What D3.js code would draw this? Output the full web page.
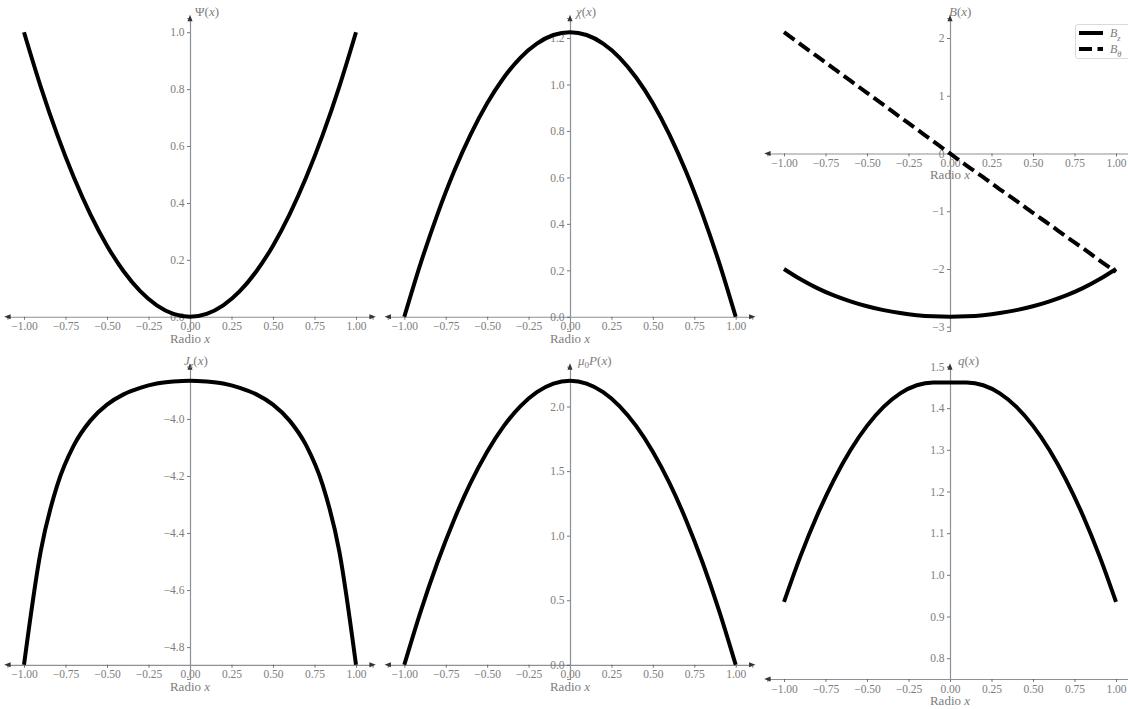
<!DOCTYPE html>
<html>
<head>
<meta charset="utf-8">
<script src="https://cdn.jsdelivr.net/npm/d3@7"></script>
<style>
  body { margin: 0; background: #fff; }
  text { font-family: "Liberation Serif", "DejaVu Serif", serif; }
</style>
</head>
<body>
<div id="chart"></div>
<script>
// radial positions (same for every profile)
const xs = [-1.0, -0.9, -0.8, -0.7, -0.6, -0.5, -0.4, -0.3, -0.2, -0.1, 0.0,
             0.1, 0.2, 0.3, 0.4, 0.5, 0.6, 0.7, 0.8, 0.9, 1.0];
const xTicks = [-1, -0.75, -0.5, -0.25, 0, 0.25, 0.5, 0.75, 1];

// profiles
const psi = [1.0, 0.81, 0.64, 0.49, 0.36, 0.25, 0.16, 0.09, 0.04, 0.01, 0.0,
             0.01, 0.04, 0.09, 0.16, 0.25, 0.36, 0.49, 0.64, 0.81, 1.0];
const chi = [0.0, 0.233, 0.441, 0.625, 0.784, 0.919, 1.029, 1.115, 1.176, 1.213, 1.225,
             1.213, 1.176, 1.115, 1.029, 0.919, 0.784, 0.625, 0.441, 0.233, 0.0];
const bz = [-2.0, -2.179, -2.332, -2.458, -2.561, -2.646, -2.713, -2.764, -2.800, -2.821, -2.828,
            -2.821, -2.800, -2.764, -2.713, -2.646, -2.561, -2.458, -2.332, -2.179, -2.0];
const btheta = [2.10, 1.89, 1.68, 1.47, 1.26, 1.05, 0.84, 0.63, 0.42, 0.21, 0.0,
                -0.21, -0.41, -0.62, -0.82, -1.03, -1.23, -1.44, -1.64, -1.85, -2.05];
const jz = [-4.862, -4.466, -4.233, -4.093, -4.006, -3.950, -3.914, -3.891, -3.876, -3.869, -3.866,
            -3.869, -3.876, -3.891, -3.914, -3.950, -4.006, -4.093, -4.233, -4.466, -4.862];
const pres = [0.0, 0.418, 0.792, 1.122, 1.408, 1.65, 1.848, 2.002, 2.112, 2.178, 2.2,
              2.178, 2.112, 2.002, 1.848, 1.65, 1.408, 1.122, 0.792, 0.418, 0.0];
const qprof = [0.935, 1.0455, 1.143, 1.2275, 1.299, 1.3575, 1.403, 1.4355, 1.455, 1.4615, 1.4615,
               1.4615, 1.455, 1.4355, 1.403, 1.3575, 1.299, 1.2275, 1.143, 1.0455, 0.935];

// y tick values per panel
const psiTicks = [0, 0.2, 0.4, 0.6, 0.8, 1.0];
const chiTicks = [0, 0.2, 0.4, 0.6, 0.8, 1.0, 1.2];
const bTicks = [-3, -2, -1, 0, 1, 2];
const jzTicks = [-4.8, -4.6, -4.4, -4.2, -4.0];
const presTicks = [0, 0.5, 1.0, 1.5, 2.0];
const qTicks = [0.8, 0.9, 1.0, 1.1, 1.2, 1.3, 1.4, 1.5];

const legendNames = [[["B", "i"], ["z", "isub"]], [["B", "i"], ["θ", "isub"]]];

const width = 1128, height = 709;
const AXIS_COLOR = "#8b9099";
const TEXT_COLOR = "#7d7d7d";

// grid geometry
const colX0 = [190, 570, 950];   // pixel of x = 0
const colUnit = [166, 165.7, 166];
const rowTop = [18, 366.5];
const rowBot = [331, 679];

const panels = [
  {row: 0, col: 0, series: [{y: psi}], ticks: psiTicks, fmt: ".1f", labelDx: 5,
   label: [["Ψ"], ["("], ["x", "i"], [")"]]},
  {row: 0, col: 1, series: [{y: chi}], ticks: chiTicks, fmt: ".1f", labelDx: 6,
   label: [["χ", "i"], ["("], ["x", "i"], [")"]]},
  {row: 0, col: 2, series: [{y: bz}, {y: btheta, dash: "13,5.5"}], ticks: bTicks, fmt: "d", labelDx: -1,
   label: [["B", "i"], ["("], ["x", "i"], [")"]], legend: true},
  {row: 1, col: 0, series: [{y: jz}], ticks: jzTicks, fmt: ".1f", labelDx: -6, axisAt: d3.min(jz),
   label: [["J", "i"], ["z", "isub"], ["("], ["x", "i"], [")"]]},
  {row: 1, col: 1, series: [{y: pres}], ticks: presTicks, fmt: ".1f", labelDx: 8,
   label: [["μ", "i"], ["0", "sub"], ["P", "i"], ["("], ["x", "i"], [")"]]},
  {row: 1, col: 2, series: [{y: qprof}], ticks: qTicks, fmt: ".1f", labelDx: 8, ylim: [0.75, 1.5], axisAt: 0.75,
   label: [["q", "i"], ["("], ["x", "i"], [")"]]}
];

const svg = d3.select("#chart").append("svg")
  .attr("width", width)
  .attr("height", height)
  .attr("viewBox", [0, 0, width, height]);

// write a little math label made of tspans
function mathText(textSel, parts, size) {
  let shifted = false;
  parts.forEach(p => {
    const style = p[1] || "";
    const sub = style.includes("sub");
    const t = textSel.append("tspan").text(p[0]);
    if (style.includes("i")) t.attr("font-style", "italic");
    if (sub && !shifted) { t.attr("dy", size * 0.3).attr("font-size", size * 0.7); shifted = true; }
    else if (sub) t.attr("font-size", size * 0.7);
    else if (shifted) { t.attr("dy", -size * 0.3); shifted = false; }
  });
}

function arrow(g, x, y, dir) {
  const s = 3.2;
  let pts;
  if (dir === "right") pts = [[x + s, y], [x - s, y - s * 0.8], [x - s, y + s * 0.8]];
  if (dir === "left") pts = [[x - s, y], [x + s, y - s * 0.8], [x + s, y + s * 0.8]];
  if (dir === "up") pts = [[x, y - s], [x - s * 0.8, y + s], [x + s * 0.8, y + s]];
  g.append("path").attr("d", "M" + pts.join("L") + "Z").attr("fill", "#333");
}

panels.forEach(p => {
  const g = svg.append("g");
  const u = colUnit[p.col];
  const x = d3.scaleLinear().domain([-1.1, 1.1])
    .range([colX0[p.col] - 1.1 * u, colX0[p.col] + 1.1 * u]);

  let ydom = p.ylim;
  if (!ydom) {
    const all = p.series.flatMap(s => s.y);
    const lo = d3.min(all), hi = d3.max(all), pad = (hi - lo) * 0.05;
    ydom = [lo - pad, hi + pad];
  }
  const y = d3.scaleLinear().domain(ydom).range([rowBot[p.row], rowTop[p.row]]);

  const axisVal = (ydom[0] <= 0 && ydom[1] >= 0) ? 0 : p.axisAt;
  const axisY = y(axisVal);

  // x axis (spine through y = 0)
  const gx = g.append("g")
    .attr("transform", `translate(0,${axisY})`)
    .call(d3.axisBottom(x).tickValues(xTicks).tickFormat(d3.format(".2f"))
      .tickSizeOuter(0).tickSize(3).tickPadding(2.5));
  // y axis (spine through x = 0)
  const gy = g.append("g")
    .attr("transform", `translate(${x(0)},0)`)
    .call(d3.axisLeft(y).tickValues(p.ticks).tickFormat(d3.format(p.fmt))
      .tickSizeOuter(0).tickSize(3).tickPadding(2.5));

  [gx, gy].forEach(a => {
    a.select(".domain").attr("stroke", AXIS_COLOR).attr("stroke-width", 1.2);
    a.selectAll(".tick line").attr("stroke", "#555").attr("stroke-width", 0.8);
    a.selectAll(".tick text").attr("fill", TEXT_COLOR).attr("font-size", 11.5)
      .attr("font-family", "Liberation Serif, serif");
  });

  arrow(g, x.range()[1], axisY, "right");
  arrow(g, x.range()[0], axisY, "left");
  arrow(g, x(0), rowTop[p.row], "up");

  // axis titles
  const xl = g.append("text")
    .attr("x", x(0))
    .attr("y", axisY + 26)
    .attr("text-anchor", "middle")
    .attr("font-size", 13)
    .attr("fill", TEXT_COLOR);
  mathText(xl, [["Radio "], ["x", "i"]], 13);

  const yl = g.append("text")
    .attr("x", x(0) + p.labelDx)
    .attr("y", rowTop[p.row] - 2)
    .attr("font-size", 13)
    .attr("fill", TEXT_COLOR);
  mathText(yl, p.label, 13);

  // curves
  const line = d3.line()
    .x((d, i) => x(xs[i]))
    .y(d => y(d))
    .curve(d3.curveMonotoneX);

  p.series.forEach(s => {
    g.append("path")
      .datum(s.y)
      .attr("d", line)
      .attr("fill", "none")
      .attr("stroke", "#000")
      .attr("stroke-width", 4)
      .attr("stroke-dasharray", s.dash || null);
  });

  if (p.legend) {
    const lg = g.append("g");
    lg.append("rect")
      .attr("x", 1075.5).attr("y", 24.5)
      .attr("width", 60).attr("height", 34)
      .attr("rx", 2.5)
      .attr("fill", "#fff").attr("fill-opacity", 0.8)
      .attr("stroke", "#d0d0d0").attr("stroke-width", 0.8);
    p.series.forEach((s, i) => {
      const ly = 33 + i * 16;
      lg.append("line")
        .attr("x1", 1079).attr("x2", 1103)
        .attr("y1", ly).attr("y2", ly)
        .attr("stroke", "#000").attr("stroke-width", 4)
        .attr("stroke-dasharray", s.dash || null);
      const t = lg.append("text")
        .attr("x", 1110).attr("y", ly + 4)
        .attr("font-size", 12)
        .attr("fill", TEXT_COLOR);
      mathText(t, legendNames[i], 12);
    });
  }
});
</script>
</body>
</html>
